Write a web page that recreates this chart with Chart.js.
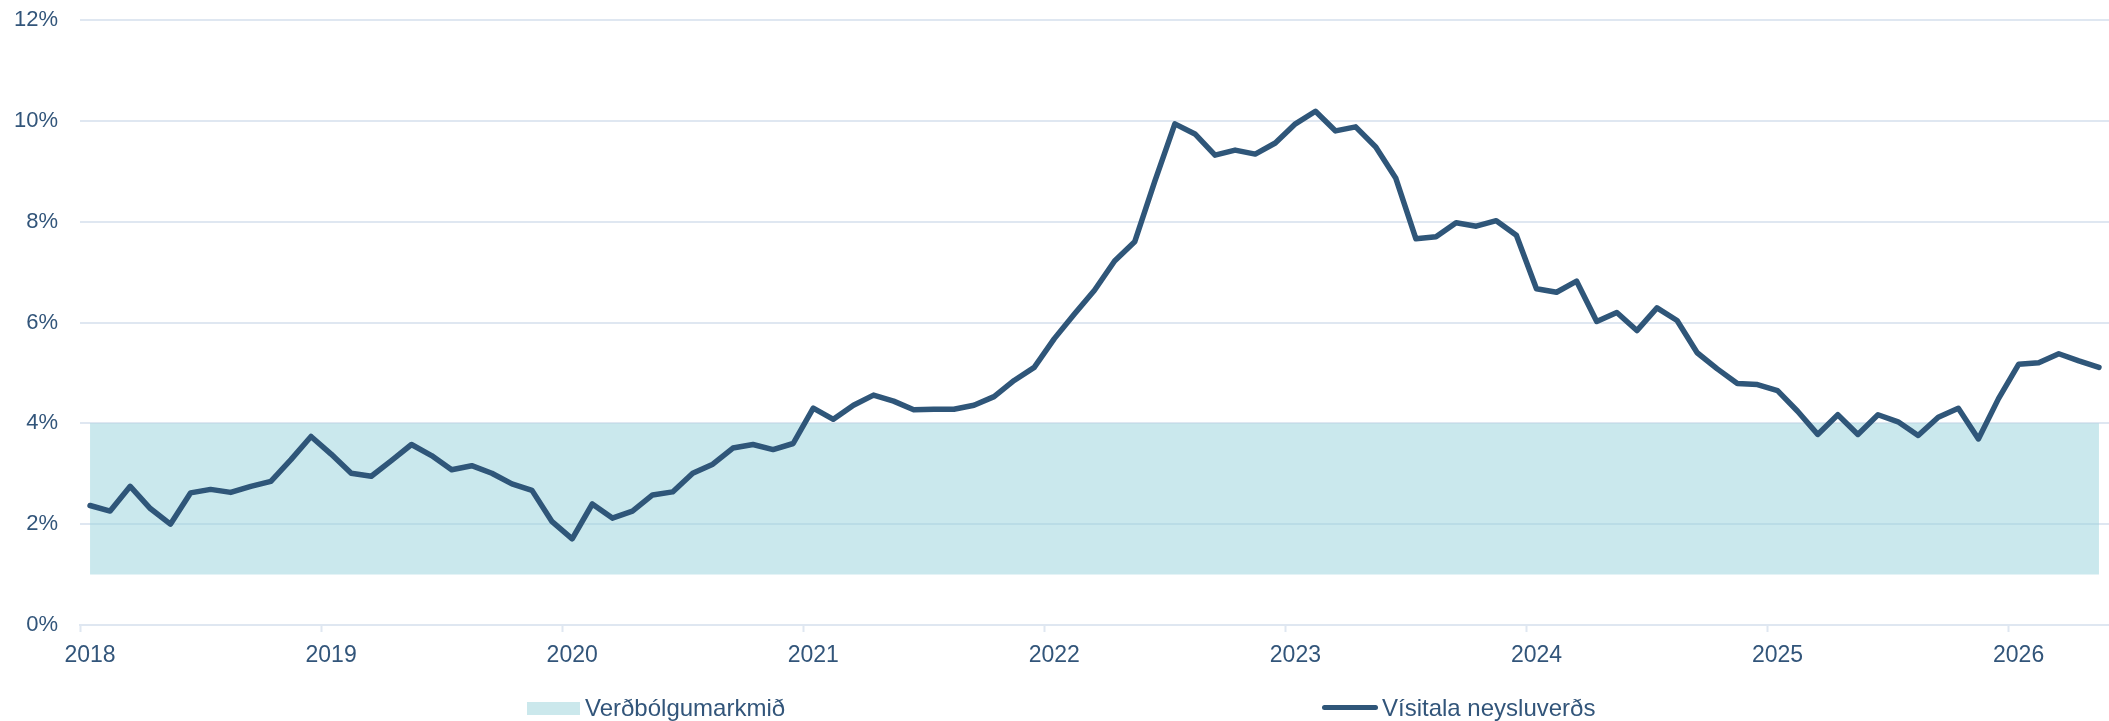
<!DOCTYPE html>
<html>
<head>
<meta charset="utf-8">
<script src="https://cdn.jsdelivr.net/npm/chart.js@4.4.1/dist/chart.umd.min.js"></script>
<style>
    html, body { margin: 0; padding: 0; background: #fff; }
    #wrap { position: relative; width: 2109px; height: 721px; }
    #legend {
        position: absolute; left: 0; top: 694px; width: 2109px; height: 27px;
        font-family: "Liberation Sans", Arial, sans-serif; font-size: 24px; color: #32557a;
    }
    .item { position: absolute; top: 0; height: 27px; line-height: 27px; white-space: nowrap; }
    .box { position: absolute; left: 0; top: 8px; width: 53px; height: 13px; background: #cbe8ec; }
    .line { position: absolute; left: 0; top: 11px; width: 56px; height: 5px; border-radius: 3px; background: #2f5679; }
</style>
</head>
<body>
<div id="wrap">
    <canvas id="chart" width="2109" height="721"></canvas>
    <div id="legend">
        <div class="item" style="left:527px"><span class="box"></span><span style="margin-left:58px">Verðbólgumarkmið</span></div>
        <div class="item" style="left:1322px"><span class="line"></span><span style="margin-left:60px">Vísitala neysluverðs</span></div>
    </div>
</div>
<script>
const startYear = 2018;
const yearLabels = ["2018", "2019", "2020", "2021", "2022", "2023", "2024", "2025", "2026"];

// 12 month inflation, Jan 2018 - May 2026
const cpi = [
    2.37, 2.26, 2.75, 2.31, 2.00, 2.62, 2.69, 2.63, 2.75, 2.85, 3.28, 3.74,
    3.39, 3.01, 2.95, 3.26, 3.58, 3.36, 3.08, 3.16, 3.01, 2.80, 2.67, 2.05,
    1.71, 2.40, 2.12, 2.26, 2.58, 2.64, 3.01, 3.19, 3.51, 3.58, 3.48, 3.60,
    4.30, 4.08, 4.36, 4.56, 4.44, 4.27, 4.28, 4.28, 4.36, 4.53, 4.85, 5.11,
    5.68, 6.17, 6.64, 7.22, 7.60, 8.80, 9.94, 9.74, 9.32, 9.42, 9.34, 9.56,
    9.94, 10.19, 9.80, 9.88, 9.48, 8.86, 7.66, 7.70, 7.98, 7.91, 8.02, 7.73,
    6.67, 6.60, 6.82, 6.02, 6.20, 5.84, 6.29, 6.04, 5.40, 5.08, 4.79, 4.77,
    4.65, 4.24, 3.78, 4.17, 3.78, 4.17, 4.03, 3.76, 4.12, 4.30, 3.69, 4.49,
    5.17, 5.20, 5.38, 5.24, 5.11
];

// inflation target band
const targetLow = 1;
const targetHigh = 4;

const yTicks = [0, 2, 4, 6, 8, 10, 12];

const months = cpi.map((v, i) => {
    const y = startYear + Math.floor(i / 12);
    const m = (i % 12) + 1;
    return y + "-" + String(m).padStart(2, "0");
});
const band = months.map(() => targetHigh);

const textColor = "#32557a";
const gridColor = "#dfe7f1";
const font = "'Liberation Sans', Arial, sans-serif";

new Chart(document.getElementById("chart"), {
    type: "line",
    data: {
        labels: months,
        datasets: [
            {
                label: "Vísitala neysluverðs",
                data: cpi,
                borderColor: "#2f5679",
                borderWidth: 5.5,
                borderJoinStyle: "round",
                borderCapStyle: "round",
                pointRadius: 0,
                tension: 0,
                fill: false,
                order: 1
            },
            {
                label: "Verðbólgumarkmið",
                data: band,
                borderWidth: 0,
                borderColor: "rgba(0,0,0,0)",
                backgroundColor: "rgba(150, 209, 219, 0.5)",
                pointRadius: 0,
                fill: { value: targetLow },
                order: 2
            }
        ]
    },
    options: {
        responsive: false,
        animation: false,
        layout: { padding: { left: 0, right: 0, top: 20, bottom: 0 } },
        plugins: {
            legend: { display: false },
            tooltip: { enabled: false }
        },
        scales: {
            x: {
                offset: true,
                grid: {
                    offset: true,
                    drawOnChartArea: false,
                    drawTicks: true,
                    tickLength: 7,
                    tickWidth: 2,
                    tickColor: ctx => (ctx.index % 12 === 0 ? gridColor : "rgba(0,0,0,0)")
                },
                border: { display: true, color: gridColor, width: 2 },
                ticks: {
                    autoSkip: false,
                    maxRotation: 0,
                    padding: 10,
                    color: textColor,
                    font: { family: font, size: 23 },
                    callback: (v, i) => (i % 12 === 0 ? yearLabels[i / 12] : "")
                },
                afterFit: scale => {
                    scale.height = 96;
                    scale.paddingLeft = 0;
                    scale.paddingRight = 0;
                }
            },
            y: {
                min: yTicks[0],
                max: yTicks[yTicks.length - 1],
                afterBuildTicks: scale => { scale.ticks = yTicks.map(v => ({ value: v })); },
                grid: { color: gridColor, lineWidth: 2, drawTicks: false },
                border: { display: false },
                ticks: {
                    padding: 22,
                    color: textColor,
                    font: { family: font, size: 22 },
                    callback: v => v + "%"
                },
                afterFit: scale => {
                    scale.width = 80;
                    scale.paddingTop = 0;
                    scale.paddingBottom = 0;
                }
            }
        }
    }
});
</script>
</body>
</html>
